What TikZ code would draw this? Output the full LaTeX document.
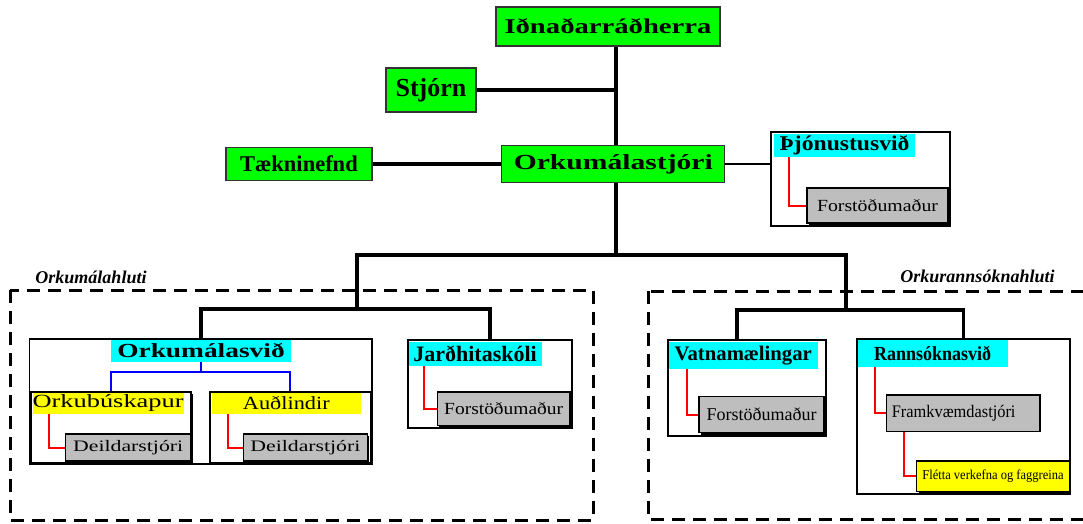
\documentclass[tikz,border=0pt]{standalone}
\usepackage{graphicx}
\usepackage{fontspec}
\setmainfont{Liberation Serif}
\usetikzlibrary{shadows}

\definecolor{boxgreen}{RGB}{0,255,0}
\definecolor{boxcyan}{RGB}{0,255,255}
\definecolor{boxyellow}{RGB}{255,255,0}
\definecolor{boxgray}{RGB}{190,190,190}
\newcommand{\xstretch}[2]{\scalebox{#1}[1]{#2}}
\newcommand{\fsz}[1]{\fontsize{#1pt}{#1pt}\selectfont}

\begin{document}
\begin{tikzpicture}[x=1pt,y=-1pt,line join=miter,
    dims/.style 2 args={minimum width=#1pt,minimum height=#2pt},
    greenbox/.style={draw=black!80,line width=1.2pt,fill=boxgreen,inner sep=0pt},
    unit/.style={draw,line width=1.8pt,fill=white,inner sep=0pt},
    cyanhead/.style={fill=boxcyan,inner sep=0pt},
    yellowhead/.style={fill=boxyellow,inner sep=0pt},
    chief/.style={draw,line width=1.2pt,fill=boxgray,inner sep=0pt,
      drop shadow={shadow xshift=2pt,shadow yshift=-2pt,fill=black,opacity=1}},
    conn/.style={line width=3.5pt},
    thinconn/.style={line width=2.8pt},
    redline/.style={red,line width=2pt},
    blueline/.style={blue,line width=2pt},
    group/.style={line width=3pt,dash pattern=on 13pt off 8pt},
    grouptag/.style={font=\bfseries\itshape\fsz{18}}]
  \useasboundingbox (0,0) rectangle (1083,523);

  % Stjornun
  \node[greenbox,dims={224}{39},font=\bfseries\fsz{21}] (idn) at (608,26.5) {\xstretch{1.365}{Iðnaðarráðherra}};
  \node[greenbox,dims={90}{44},font=\bfseries\fsz{26}] (stjorn) at (431,90) {Stjórn};
  \node[greenbox,dims={146}{33},font=\bfseries\fsz{22.5}] (taekni) at (299,164) {Tækninefnd};
  \node[greenbox,dims={223}{37},font=\bfseries\fsz{21.5}] (orku) at (613.3,164) {\xstretch{1.377}{Orkumálastjóri}};
  \coordinate (trunk) at (616,0);
  \draw[conn] (idn.south -| trunk) -- (orku.north -| trunk);
  \draw[conn] (stjorn.east) -- (stjorn.east -| trunk);
  \draw[conn] (taekni.east) -- (orku.west);

  % Thjonustusvid
  \node[unit,dims={179}{94}] (thjon) at (860.5,179) {};
  \node[cyanhead,dims={141}{23},font=\bfseries\fsz{21}] (thjonlab) at (844.5,145.5) {\xstretch{1.125}{Þjónustusvið}};
  \node[chief,dims={141}{35},font=\fsz{17}] (thjonhead) at (877.5,205.5) {\xstretch{1.165}{Forstöðumaður}};
  \draw[redline] ([xshift=15pt]thjonlab.south west) |- (thjonhead.west);
  \draw[thinconn] (orku.east) -- (orku.east -| thjon.west);

  % Skipting
  \coordinate (lbar) at (357,255);
  \coordinate (rbar) at (846,255);
  \coordinate (lfork) at (357,309);
  \coordinate (rfork) at (846,310);
  \draw[conn] (orku.south -| trunk) -- (trunk |- lbar);
  \draw[conn] (lfork) -- (lbar) -- (rbar) -- (rfork);

  % Orkumalahluti
  \draw[group] (10,290) rectangle (593,520);
  \node[grouptag] (lefttag) at (91,277) {Orkumálahluti};

  \node[unit,dims={342.5}{125}] (omsv) at (200.75,401.5) {};
  \node[cyanhead,dims={180}{21.7},font=\bfseries\fsz{20}] (omsvlab) at (201,350.85) {\xstretch{1.37}{Orkumálasvið}};
  \node[unit,dims={160.4}{71},
    drop shadow={shadow xshift=1.5pt,shadow yshift=-1.5pt,fill=black,opacity=1}] (orkub) at (110.8,427.5) {};
  \node[yellowhead,dims={148.8}{21},font=\fsz{18.6}] (orkublab) at (108.1,403.5) {\xstretch{1.42}{Orkubúskapur}};
  \node[chief,dims={124.8}{27},font=\fsz{16}] (deild1) at (128.2,447.5) {\xstretch{1.36}{Deildarstjóri}};
  \draw[redline] ([xshift=17pt]orkublab.south west) |- (deild1.west);
  \node[unit,dims={161.3}{71},
    drop shadow={shadow xshift=1.5pt,shadow yshift=-1.5pt,fill=black,opacity=1}] (audl) at (290.35,427.5) {};
  \node[yellowhead,dims={149.4}{21},font=\fsz{18.6}] (audllab) at (286.3,403.5) {\xstretch{1.2}{Auðlindir}};
  \node[chief,dims={124}{27},font=\fsz{16}] (deild2) at (305.4,447.5) {\xstretch{1.36}{Deildarstjóri}};
  \draw[redline] ([xshift=17pt]audllab.south west) |- (deild2.west);
  \coordinate (bluefork) at (201,372);
  \draw[blueline] (omsvlab.south) -- (bluefork);
  \draw[blueline] (orkub.north) |- (bluefork) -| (audl.north);

  \node[unit,dims={164.4}{88}] (jardh) at (489.8,384) {};
  \node[cyanhead,dims={132.8}{23.7},font=\bfseries\fsz{22}] (jardhlab) at (475.1,353.85) {Jarðhitaskóli};
  \node[chief,dims={132.6}{33.7},font=\fsz{17}] (jardhhead) at (503.7,408.85) {\xstretch{1.145}{Forstöðumaður}};
  \draw[redline] ([xshift=15pt]jardhlab.south west) |- (jardhhead.west);

  \draw[conn] (omsv.north) |- (lfork) -| (jardh.north);

  % Orkurannsoknahluti
  \draw[group] (648,291) rectangle (1100,519);
  \node[grouptag] (righttag) at (977.5,276) {Orkurannsóknahluti};

  \node[unit,dims={158.3}{95.7}] (vatna) at (746.85,387.85) {};
  \node[cyanhead,dims={149}{26.7},font=\bfseries\fsz{20.7}] (vatnalab) at (743.2,355.35) {Vatnamælingar};
  \node[chief,dims={125}{36},font=\fsz{18}] (vatnahead) at (761.5,414.7) {Forstöðumaður};
  \draw[redline] ([xshift=18pt]vatnalab.south west) |- (vatnahead.west);

  \node[unit,dims={213.3}{155.3}] (rann) at (963.35,416.65) {};
  \node[cyanhead,dims={150}{26.7},font=\bfseries\fsz{20}] (rannlab) at (932.7,353.35) {\xstretch{0.9}{Rannsóknasvið}};
  \node[draw,line width=1.5pt,fill=boxgray,inner ysep=0pt,inner xsep=5pt,dims={153.3}{36.7},
    text width=143pt,align=left,font=\fsz{17.6}] (framk) at (963.35,413.35) {\xstretch{0.93}{Framkvæmdastjóri}};
  \draw[redline] ([xshift=17.6pt]rannlab.south west) |- (framk.west);
  \node[chief,fill=boxyellow,dims={152.6}{30.7},font=\fsz{13.6}] (flett) at (993,476.35) {\xstretch{0.92}{Flétta verkefna og faggreina}};
  \draw[redline] ([xshift=17.6pt]framk.south west) |- (flett.west);

  \coordinate (vdrop) at (737,0);
  \draw[conn] (vatna.north -| vdrop) |- (rfork) -| (rann.north);
\end{tikzpicture}
\end{document}
